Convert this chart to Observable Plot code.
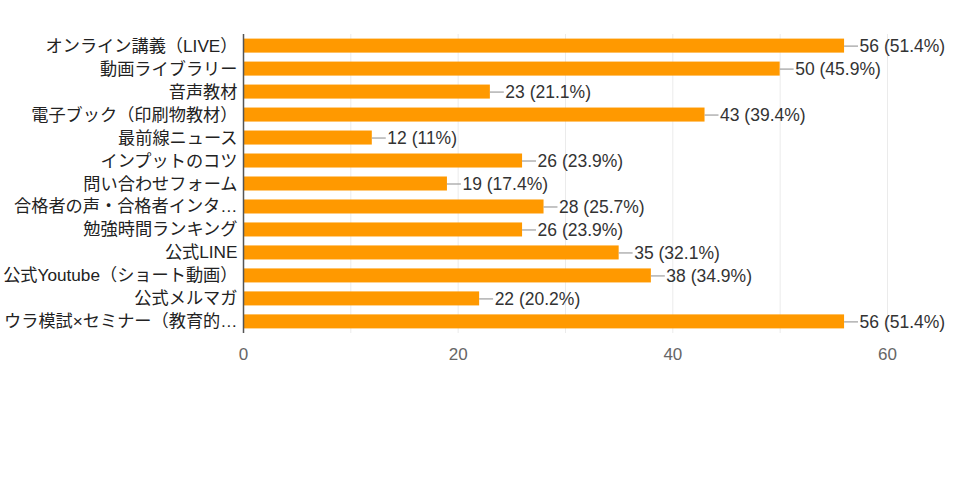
<!DOCTYPE html>
<html>
<head>
<meta charset="utf-8">
<script src="https://cdn.jsdelivr.net/npm/d3@7"></script>
<script src="https://cdn.jsdelivr.net/npm/@observablehq/plot@0.6"></script>
<style>
  html, body { margin: 0; padding: 0; background: #fff; overflow: hidden; }
  svg { display: block; }
</style>
</head>
<body>
<div id="chart"></div>
<script>
const categories = [
  "オンライン講義（LIVE）",
  "動画ライブラリー",
  "音声教材",
  "電子ブック（印刷物教材）",
  "最前線ニュース",
  "インプットのコツ",
  "問い合わせフォーム",
  "合格者の声・合格者インタ…",
  "勉強時間ランキング",
  "公式LINE",
  "公式Youtube（ショート動画）",
  "公式メルマガ",
  "ウラ模試×セミナー（教育的…"
];
const counts = [56, 50, 23, 43, 12, 26, 19, 28, 26, 35, 38, 22, 56];
const percents = ["51.4", "45.9", "21.1", "39.4", "11", "23.9", "17.4", "25.7", "23.9", "32.1", "34.9", "20.2", "51.4"];
const xTicks = [0, 20, 40, 60];
const gridTicks = [10, 20, 30, 40, 50, 60];

const data = categories.map((c, i) => ({cat: c, v: counts[i], label: `${counts[i]} (${percents[i]}%)`}));

const font = "'Liberation Sans', Arial, 'Noto Sans CJK JP', sans-serif";

const chart = Plot.plot({
  width: 960,
  height: 480,
  marginLeft: 243,
  marginRight: 73,
  marginTop: 34,
  marginBottom: 147,
  style: {fontFamily: font, fontSize: "17px", background: "#fff"},
  x: {domain: [0, 60]},
  y: {domain: categories, paddingInner: 0.39, paddingOuter: 0.2, round: false},
  marks: [
    Plot.gridX(gridTicks, {stroke: "#ebebeb", strokeOpacity: 1}),
    Plot.barX(data, {y: "cat", x: "v", fill: "#ff9900"}),
    Plot.ruleY(data, {y: "cat", x1: "v", x2: d => d.v + 1.3, stroke: "#9e9e9e", strokeWidth: 1.2}),
    Plot.text(data, {y: "cat", x: "v", text: "label", dx: 15, textAnchor: "start", fill: "#333", fontSize: 17.5}),
    Plot.ruleX([0], {stroke: "#555", strokeWidth: 1.5}),
    Plot.axisX(xTicks, {tickSize: 0, tickPadding: 14, fill: "#666", fontSize: 17, label: null}),
    Plot.axisY({tickSize: 0, tickPadding: 6, fill: "#222", fontSize: 17.2, label: null})
  ]
});
document.getElementById("chart").appendChild(chart);
</script>
</body>
</html>
